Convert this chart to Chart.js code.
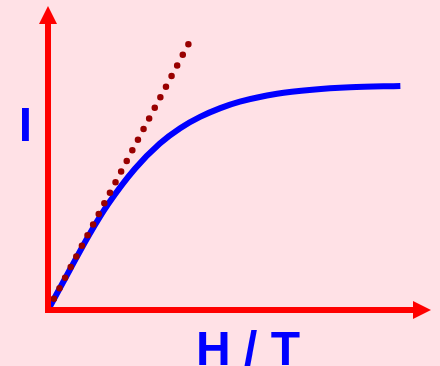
<!DOCTYPE html>
<html>
<head>
<meta charset="utf-8">
<script src="https://cdn.jsdelivr.net/npm/chart.js@4/dist/chart.umd.min.js"></script>
<style>
    html, body { margin: 0; padding: 0; background: #ffe1e6; }
    #chart { display: block; }
</style>
</head>
<body>
<canvas id="chart" width="440" height="366"></canvas>
<script>
// magnetisation curve (I = 1 at saturation)
var fieldH = [0, 0.574, 1.08, 1.575, 2.27, 2.92, 3.45, 3.97, 4.5, 5.01, 5.98, 6.9, 7.89, 9.2];
var magI = [0, 0.18, 0.336, 0.472, 0.628, 0.74, 0.808, 0.858, 0.897, 0.926, 0.961, 0.979, 0.99, 0.996];
// initial slope (dotted tangent)
var tangentH = [0, 3.68];
var tangentI = [0, 1.186];
var axisLabelX = 'H / T';
var axisLabelY = 'I';

function points(xs, ys) {
    return xs.map(function (x, i) { return { x: x, y: ys[i] }; });
}

// AXES WITH ARROWS + LABELS
var axesPlugin = {
    id: 'arrowAxes',
    afterDatasetsDraw: function (chart) {
        var ctx = chart.ctx;
        var a = chart.chartArea;
        var x0 = chart.scales.x.getPixelForValue(0);
        var y0 = chart.scales.y.getPixelForValue(0);
        ctx.save();
        ctx.strokeStyle = '#ff0000';
        ctx.fillStyle = '#ff0000';
        ctx.lineWidth = 6;
        ctx.lineCap = 'butt';
        ctx.beginPath();
        ctx.moveTo(x0, y0 + 3);
        ctx.lineTo(x0, a.top + 16);
        ctx.moveTo(x0 - 3, y0);
        ctx.lineTo(a.right - 16, y0);
        ctx.stroke();
        // arrow heads
        ctx.beginPath();
        ctx.moveTo(x0, a.top);
        ctx.lineTo(x0 - 9, a.top + 18);
        ctx.lineTo(x0 + 9, a.top + 18);
        ctx.closePath();
        ctx.fill();
        ctx.beginPath();
        ctx.moveTo(a.right, y0);
        ctx.lineTo(a.right - 18, y0 - 9);
        ctx.lineTo(a.right - 18, y0 + 9);
        ctx.closePath();
        ctx.fill();
        // labels
        ctx.fillStyle = '#0000ff';
        ctx.font = 'bold 48px "Liberation Sans", Arial, sans-serif';
        ctx.textAlign = 'center';
        ctx.textBaseline = 'alphabetic';
        ctx.fillText(axisLabelX, 248, 365);
        ctx.fillText(axisLabelY, 25.5, 141);
        ctx.restore();
    }
};

new Chart(document.getElementById('chart'), {
    type: 'line',
    data: {
        datasets: [{
            label: 'tangent',
            data: points(tangentH, tangentI),
            borderColor: '#990000',
            borderWidth: 6.5,
            borderDash: [0, 12],
            borderDashOffset: -0.6,
            borderCapStyle: 'round',
            pointRadius: 0,
            fill: false,
            clip: false
        },
        {
            label: 'I(H)',
            data: points(fieldH, magI),
            borderColor: '#0000ff',
            borderWidth: 6,
            borderCapStyle: 'butt',
            cubicInterpolationMode: 'monotone',
            pointRadius: 0,
            fill: false,
            clip: false
        }]
    },
    options: {
        responsive: false,
        devicePixelRatio: 1,
        animation: false,
        events: [],
        layout: { padding: { left: 48, top: 6, right: 9, bottom: 56 } },
        scales: {
            x: { type: 'linear', min: 0, max: 10, display: false },
            y: { type: 'linear', min: 0, max: 1.351, display: false }
        },
        plugins: {
            legend: { display: false },
            tooltip: { enabled: false }
        }
    },
    plugins: [axesPlugin]
});
</script>
</body>
</html>
